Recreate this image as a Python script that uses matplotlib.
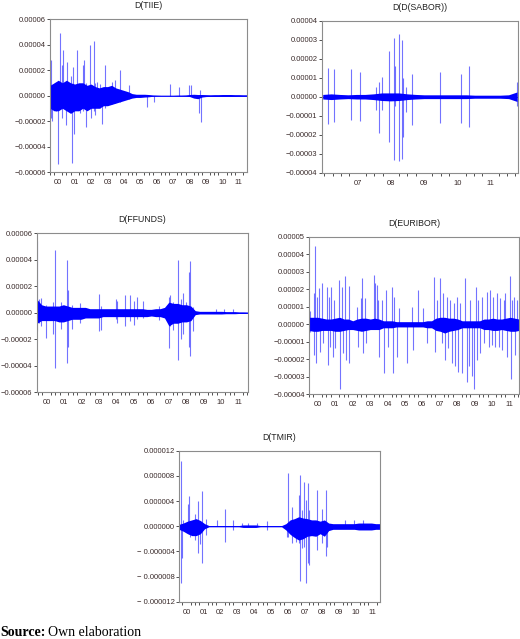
import matplotlib
matplotlib.use("Agg")
import matplotlib.pyplot as plt
import numpy as np

plt.rcParams["font.family"] = ["Liberation Sans", "DejaVu Sans"]

BLUE = "#0000ff"
SPINE = "#8c8c8c"
LABEL = "#3a2b2b"

# all values in units of 1e-6

# ---- D(TIIE) ----
tiie_core_t = np.linspace(2000.0, 2012.0, 49)
tiie_hi = [8, 10, 12, 10, 12, 10, 9, 10, 10, 8, 9, 7, 6, 7, 7, 8, 6, 5, 4, 3,
           1.5, 1, 1, 1, 0.8, 0.5, 0.4, 0.3, 0.3, 0.3, 0.3, 0.4, 0.4, 0.5,
           0.8, 1.0, 0.8, 0.8, 0.7, 0.6, 0.7, 0.7, 0.8, 0.8, 0.8, 0.7, 0.7,
           0.6, 0.6]
tiie_lo = [-10, -12, -12, -10, -12, -14, -12, -12, -10, -12, -10, -10, -10,
           -8, -8, -7, -6, -5, -4, -3, -2, -1.5, -1.5, -1.2, -1, -0.6, -0.4,
           -0.3, -0.3, -0.3, -0.3, -0.4, -0.4, -0.5, -0.8, -2.0, -2.5, -1.2,
           -0.8, -0.7, -0.7, -0.7, -0.7, -0.7, -0.7, -0.7, -0.6, -0.6, -0.6]
tiie_spk_t = [2000.03, 2000.03, 2000.14, 2000.14, 2000.34, 2000.34, 2000.48,
              2000.48, 2000.58, 2000.58, 2000.70, 2000.70, 2000.80, 2000.80,
              2000.97, 2000.97, 2001.01, 2001.01, 2001.25, 2001.25, 2001.35,
              2001.35, 2001.39, 2001.39, 2001.45, 2001.45, 2001.65, 2001.65,
              2001.82, 2001.82, 2001.98, 2001.98, 2002.06, 2002.06, 2002.22,
              2002.22, 2002.42, 2002.42, 2002.50, 2002.50, 2002.67, 2002.67,
              2002.75, 2002.75, 2002.87, 2002.87, 2003.07, 2003.07, 2003.17,
              2003.17, 2003.37, 2003.37, 2003.78, 2003.78, 2003.98, 2003.98,
              2004.29, 2004.29, 2004.79, 2004.79, 2005.90, 2006.31, 2007.32,
              2007.83, 2008.48, 2008.60, 2009.08, 2009.14, 2009.20]
tiie_spk_v = [28, -18, 5, -20, 9, -12, 3, -54, 49, -5, 24, -18, 36, -6,
              5, -23, 26, -8, 15, -10, 4, -53, 22, -6, 6, -30, 36, -10,
              8, -14, 24, -12, 28, -8, 10, -25, 40, -10, 8, -18, 43, -12,
              10, -15, 11, -9, 9, -10, 6, -22, 24, -10, 11, -7, 12, -6,
              20, -5, 8, -3, -9, -5, 9,
              7, 8, 8, -14, 4, -21]

# ---- D(D(SABOR)) ----
sabor_core_t = np.linspace(2006.45, 2012.3, 24)
sabor_hi = [1.2, 1.5, 1.2, 1, 1.2, 1.2, 1.5, 2, 2, 2, 1.5, 1.2, 1, 1, 1, 1, 1,
            1, 0.8, 0.8, 0.8, 0.8, 1, 2.5]
sabor_lo = [-1.2, -1.5, -1.2, -1, -1.2, -1.2, -1.5, -2, -2.2, -2, -1.5, -1.2,
            -1, -1, -1, -1, -1, -1, -0.8, -0.8, -0.8, -0.8, -1, -2.5]
sabor_spk_t = [2006.60, 2006.60, 2006.79, 2006.79, 2007.29, 2007.29, 2007.57,
               2007.57, 2008.05, 2008.05, 2008.15, 2008.15, 2008.22, 2008.22,
               2008.45, 2008.45, 2008.60, 2008.60, 2008.64, 2008.64, 2008.75,
               2008.75, 2008.85, 2008.85, 2008.88, 2008.88, 2008.95, 2008.95,
               2009.15, 2009.15, 2009.98, 2009.98, 2010.60, 2010.60, 2010.86,
               2010.86, 2012.3, 2012.3]
sabor_spk_v = [15, -14.5, 14.5, -13.5, 14.5, -12, 13, -13, 5, -7, 8, -19,
               10.5, -7, 24, -24, 31, -33.5, 16, -5, 33, -34, 30, -33, 10, -21,
               5, -8, 12, -15, 13, -14, 12, -14, 16, -16, 8, -5]

# ---- D(FFUNDS) ----
ffunds_core_t = np.linspace(1999.95, 2012.05, 49)
ffunds_hi = [10, 6, 5, 5, 5, 5, 6, 5, 4, 4, 4, 4, 3, 3, 3, 3, 3, 3, 3, 3, 3, 3,
             3, 3, 3, 2.5, 2.5, 3, 3, 4, 8, 7, 7, 6, 6, 5, 1.5, 1, 1, 1, 1, 1,
             1, 0.8, 0.8, 0.8, 0.6, 0.6, 0.5]
ffunds_lo = [-8, -6, -6, -6, -6, -7, -7, -6, -5, -5, -5, -4, -4, -4, -4, -3,
             -3, -3, -3, -3, -3, -3, -3, -3, -3, -3, -2.5, -3, -3, -4, -10, -8,
             -8, -7, -7, -6, -1.5, -1, -1, -1, -1, -1, -1, -0.8, -0.8, -0.8,
             -0.6, -0.6, -0.5]
ffunds_spk_t = [1999.97, 1999.97, 2000.04, 2000.04, 2000.2, 2000.2, 2000.46,
                2000.46, 2000.88, 2000.88, 2000.98, 2000.98, 2001.3, 2001.3,
                2001.68, 2001.68, 2001.72, 2001.72, 2001.93, 2001.93, 2002.4,
                2002.4, 2003.48, 2003.48, 2003.59, 2003.59, 2004.47, 2004.47,
                2004.55, 2004.55, 2004.99, 2004.99, 2005.27, 2005.27, 2005.50,
                2005.50, 2005.66, 2005.66, 2006.04, 2006.04, 2006.96, 2006.96,
                2007.52, 2007.52, 2007.60, 2007.60, 2007.72, 2007.72, 2008.04,
                2008.04, 2008.18, 2008.18, 2008.33, 2008.33, 2008.52, 2008.52,
                2008.67, 2008.67, 2008.75, 2008.75, 2008.87, 2008.87, 2010.24,
                2010.66, 2011.20]
ffunds_spk_v = [54, -14, 10, -8, 11, -10, 6, -19, 8, -16, 47, -42, 8, -12,
                40, -38, 17, -26, 6, -12, 7, -8, 14, -14, 5, -13, 10, -5,
                9, -8, 13, -10, 13, -6, 9, -9, 12, -5, 9, -4, 5, -5.5,
                12, -27, 13, -10, 8, -13, 40, -36, 10, -20, 15, -16, 8, -6,
                31, -26, 39, -33, 4, -14, 3, 3, 2.5]

# ---- D(EURIBOR) ----
euribor_core_t = np.linspace(2000.0, 2012.05, 49)
euribor_hi = [4, 4, 4, 3.5, 3, 3, 3.5, 4, 3, 3, 2, 3, 3.5, 3.5, 3, 3.5, 3, 2,
              2, 2, 1.5, 1.5, 1.5, 1.5, 1.5, 1.5, 1.5, 2, 2, 3.5, 4, 4, 3.5,
              3.5, 3, 2, 2, 2, 2, 2, 3, 3, 3.5, 3, 3, 3.5, 4, 3.5, 3]
euribor_lo = [-3.5, -4, -4, -3.5, -3.5, -3.5, -4, -4, -3.5, -3, -3, -3.5, -4,
              -3.5, -3, -3, -3, -2, -2, -2, -1.5, -1.5, -1.5, -1.5, -1.5, -1.5,
              -1.5, -2, -2, -3.5, -4, -5, -4, -3.5, -3, -2, -2, -2, -2, -2, -3,
              -3, -3.5, -3.5, -3, -3.5, -4, -4, -3.5]
euribor_spk_t = [2000.06, 2000.06, 2000.29, 2000.31, 2000.35, 2000.40, 2000.48,
                 2000.60, 2000.63, 2000.73, 2000.83, 2001.02, 2001.11, 2001.15,
                 2001.21, 2001.28, 2001.36, 2001.44, 2001.51, 2001.72, 2001.80,
                 2001.88, 2001.97, 2002.05, 2002.13, 2002.28, 2002.32, 2002.74,
                 2002.83, 2002.97, 2003.06, 2003.12, 2003.22, 2003.27, 2003.73,
                 2003.79, 2003.89, 2003.98, 2004.04, 2004.17, 2004.31, 2004.42,
                 2004.56, 2004.75, 2004.80, 2004.90, 2005.07, 2005.19, 2005.61,
                 2005.90, 2005.99, 2006.28, 2006.56, 2006.76, 2007.18, 2007.23,
                 2007.33, 2007.52, 2007.62, 2007.71, 2007.81, 2007.90, 2008.00,
                 2008.10, 2008.19, 2008.29, 2008.38, 2008.48, 2008.57, 2008.67,
                 2008.76, 2008.96, 2009.05, 2009.15, 2009.24, 2009.34, 2009.47,
                 2009.59, 2009.66, 2009.72, 2009.82, 2009.91, 2010.01, 2010.20,
                 2010.30, 2010.39, 2010.49, 2010.58, 2010.68, 2010.77, 2010.87,
                 2010.96, 2011.06, 2011.16, 2011.25, 2011.35, 2011.50, 2011.58,
                 2011.65, 2011.73, 2011.83, 2011.92, 2012.02]
euribor_spk_v = [7.6, -4.2, 17.7, -17.5, 44.7, -22.2, 15.8, 20.5, -15.6, 23.4,
                 -10.8, 21.5, -23.2, 15.8, -12.7, 21.1, -18.4, 13.9, -13.7,
                 25.3, -37.1, 21.5, -16.5, 27.6, -20.3, 21.9, -22.2, 10.1,
                 -12.7, 14.8, 26.6, -16.5, 14.8, -10.8, 28.1, 23.4, 22.4, 13.9,
                 -18.4, 13.9, -27.6, 19.6, -12.7, 21.5, -27.9, 15.8, -18.4, 9.1,
                 -22.2, 10.1, -14.6, 19.6, 9.1, -10.8, 26.8, -15.6, 13.9, 26.2,
                 -10.8, 17.7, -20.3, 15.8, -13.7, 13.9, -22.2, 12.0, -24.1,
                 15.8, -27.0, 12.0, -27.9, 26.2, -32.7, -24.1, 13.9, -29.8,
                 -37.1, 21.5, -20.3, 13.9, -16.5, 15.8, -10.8, 18.6, -12.7,
                 19.6, -11.8, 15.8, -12.7, 17.7, -12.7, 14.8, -14.6, 13.9, 17.7,
                 -18.4, 27.8, -31.4, 13.9, 15.8, -17.5, 13.9, -18.4]

# ---- D(TMIR) ----
tmir_core_t = np.linspace(2000.05, 2011.94, 48)
tmir_hi = [0.3, 0.5, 0.8, 1.0, 1.2, 0.9, 0.4, 0.1, 0.1, 0.1, 0.1, 0.1, 0.1,
           0.1, 0.1, 0.2, 0.2, 0.2, 0.2, 0.1, 0.1, 0.1, 0.1, 0.1, 0.1, 0.4,
           1.0, 1.2, 1.5, 1.3, 1.2, 1.0, 1.0, 0.8, 1.0, 0.5, 0.4, 0.4, 0.4,
           0.4, 0.4, 0.4, 0.5, 0.5, 0.5, 0.5, 0.4, 0.4]
tmir_lo = [-0.5, -0.8, -1.2, -1.5, -1.5, -1.2, -0.4, -0.1, -0.1, -0.1, -0.1,
           -0.1, -0.1, -0.1, -0.1, -0.2, -0.2, -0.2, -0.2, -0.1, -0.1, -0.1,
           -0.1, -0.1, -0.1, -0.6, -1.3, -1.8, -2.2, -2.0, -1.6, -1.5, -1.6,
           -1.2, -1.6, -0.7, -0.5, -0.5, -0.5, -0.5, -0.5, -0.5, -0.6, -0.6,
           -0.6, -0.6, -0.5, -0.5]
tmir_spk_t = [2000.16, 2000.16, 2000.20, 2000.30, 2000.60, 2000.64, 2000.70,
              2000.99, 2000.99, 2001.19, 2001.19, 2001.29, 2001.39, 2001.39,
              2001.65, 2001.65, 2002.28, 2002.77, 2002.77, 2003.26, 2003.26,
              2003.75, 2004.15, 2004.65, 2005.27, 2005.27, 2006.44, 2006.52,
              2006.52, 2006.71, 2006.71, 2007.00, 2007.15, 2007.15, 2007.20,
              2007.20, 2007.30, 2007.30, 2007.44, 2007.44, 2007.56, 2007.56,
              2007.66, 2007.66, 2007.76, 2007.76, 2008.19, 2008.19, 2008.49,
              2008.49, 2008.75, 2008.75, 2008.83, 2009.9, 2010.4, 2010.95]
tmir_spk_v = [10.4, -9.1, -5.1, 1.0, 3.6, 4.8, -1.7, 2.0, -2.2, 4.0, -4.2,
              -2.8, 5.6, -5.8, 1.2, -1.4, 1.0, 2.7, -2.5, 1.0, -0.6, 0.5, 0.5,
              0.5, 0.9, -0.6, -1.7, 8.5, -1.7, 3.1, -2.6, -2.5, 4.9, -2.7, 8.2,
              -8.7, 2.6, -3.5, 7.1, -3.3, 4.2, -9.1, 6.8, -5.9, 2.6, -6.2, 5.7,
              -3.8, 2.7, -2.7, 5.8, -4.8, -3.3, 1.0, 1.0, 1.0]

panels = [
    ("D(TIIE)", tiie_core_t, tiie_hi, tiie_lo, tiie_spk_t, tiie_spk_v,
     [0.0962, 0.7308, 0.379, 0.2394], (2000.0, 2012.0), list(range(2000, 2012)),
     [-60, -40, -20, 0, 20, 40, 60], 5),
    ("D(D(SABOR))", sabor_core_t, sabor_hi, sabor_lo, sabor_spk_t, sabor_spk_v,
     [0.6187, 0.7297, 0.3775, 0.2379], (2006.42, 2012.33),
     list(range(2007, 2012)), [-40, -30, -20, -10, 0, 10, 20, 30, 40], 5),
    ("D(FFUNDS)", ffunds_core_t, ffunds_hi, ffunds_lo, ffunds_spk_t,
     ffunds_spk_v, [0.0706, 0.3865, 0.4063, 0.2484], (1999.93, 2012.05),
     list(range(2000, 2012)), [-60, -40, -20, 0, 20, 40, 60], 5),
    ("D(EURIBOR)", euribor_core_t, euribor_hi, euribor_lo, euribor_spk_t,
     euribor_spk_v, [0.5942, 0.3829, 0.4044, 0.2466], (2000.0, 2012.06),
     list(range(2000, 2012)), [-40, -30, -20, -10, 0, 10, 20, 30, 40, 50], 5),
    ("D(TMIR)", tmir_core_t, tmir_hi, tmir_lo, tmir_spk_t, tmir_spk_v,
     [0.3442, 0.0584, 0.3865, 0.2363], (2000.05, 2011.94),
     list(range(2000, 2012)), [-12, -8, -4, 0, 4, 8, 12], 6),
]


def fmt(v, dec):
    s = "%.*f" % (dec, abs(v) * 1e-6)
    if v < 0:
        s = ("\u2212" if dec == 5 else "\u2212 ") + s
    return s


fig = plt.figure(figsize=(5.2, 6.39), dpi=100)

for (title, ct, hi, lo, st, sv, pos, xlim, years, yticks, dec) in panels:
    ax = fig.add_axes(pos)
    ax.fill_between(ct, lo, hi, color=BLUE, lw=0)
    ax.vlines(st, 0, sv, color=BLUE, lw=0.8, alpha=0.55)
    ax.axhline(0, color=BLUE, lw=0.6)
    ax.set_xlim(*xlim)
    ax.set_ylim(yticks[0], yticks[-1])
    ax.set_yticks(yticks)
    ax.set_yticklabels([fmt(v, dec) for v in yticks])
    ax.set_xticks([y + 0.5 for y in years])
    ax.set_xticklabels(["%02d" % (y % 100) for y in years])
    qt = np.arange(np.ceil(xlim[0] * 4) / 4, xlim[1], 0.25)
    ax.set_xticks(qt, minor=True)
    ax.tick_params(axis="x", which="major", length=0, pad=5,
                   labelsize=5.5, labelcolor=LABEL)
    ax.tick_params(axis="x", which="minor", length=2, width=0.6,
                   color="#333333", direction="out")
    ax.tick_params(axis="y", length=2, width=0.6, color="#333333", pad=1,
                   labelsize=5.5, labelcolor=LABEL)
    for sp in ax.spines.values():
        sp.set_color(SPINE)
        sp.set_linewidth(0.8)
    ax.set_title(title, fontsize=6.3, pad=8, color="#222222")

fig.text(0.0, 0.004, "Source:", family=["Liberation Serif", "DejaVu Serif"],
         fontweight="bold", fontsize=10, va="baseline")
fig.text(0.092, 0.004, "Own elaboration",
         family=["Liberation Serif", "DejaVu Serif"], fontsize=10,
         va="baseline")

fig.savefig("out.png", dpi=100)
